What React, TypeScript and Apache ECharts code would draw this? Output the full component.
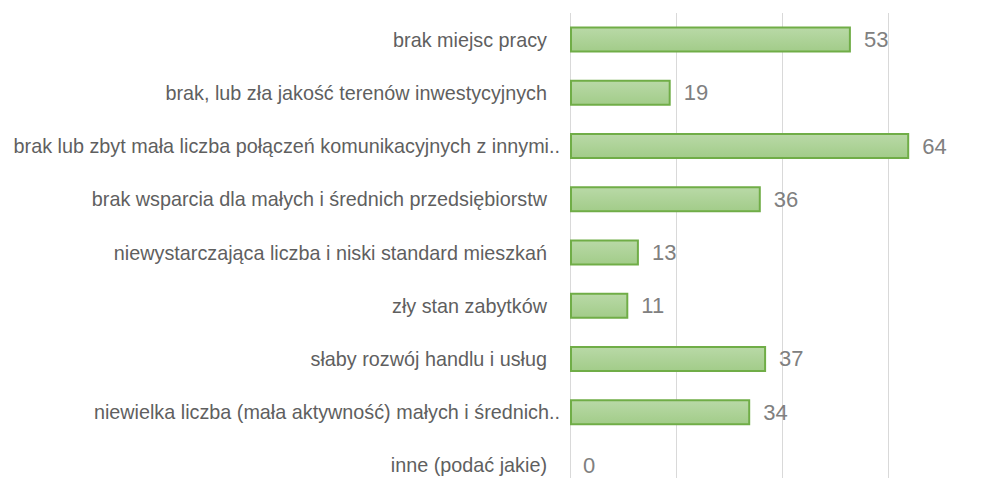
import React, { useEffect, useRef } from "react";
import * as echarts from "echarts";

const categories = [
  "brak miejsc pracy",
  "brak, lub zła jakość terenów inwestycyjnych",
  "brak lub zbyt mała liczba połączeń komunikacyjnych z innymi..",
  "brak wsparcia dla małych i średnich przedsiębiorstw",
  "niewystarczająca liczba i niski standard mieszkań",
  "zły stan zabytków",
  "słaby rozwój handlu i usług",
  "niewielka liczba (mała aktywność) małych i średnich..",
  "inne (podać jakie)",
];
const values = [53, 19, 64, 36, 13, 11, 37, 34, 0];

const FONT = "'Liberation Sans', Arial, sans-serif";

export default function App() {
  const ref = useRef<HTMLDivElement>(null);
  useEffect(() => {
    if (!ref.current) return;
    const chart = echarts.init(ref.current, undefined, { renderer: "svg" });
    chart.setOption({
      animation: false,
      grid: {
        left: 570,
        right: -12,
        top: 13,
        bottom: -14,
        containLabel: false,
        outerBoundsMode: "none",
      },
      xAxis: {
        type: "value",
        min: 0,
        max: 80,
        interval: 20,
        axisLabel: { show: false },
        axisLine: { show: false },
        axisTick: { show: false },
        splitLine: { lineStyle: { color: "#d9d9d9", width: 1 } },
      },
      yAxis: {
        type: "category",
        inverse: true,
        data: categories,
        axisLine: { show: false },
        axisTick: { show: false },
        axisLabel: {
          margin: 10,
          fontFamily: FONT,
          fontSize: 19.8,
          color: "#5f5f5f",
          formatter: (v: string) => (v.endsWith("..") ? "{t|" + v + "}" : "{n|" + v + "}"),
          rich: {
            t: { fontFamily: FONT, fontSize: 19.8, color: "#5f5f5f" },
            n: { fontFamily: FONT, fontSize: 19.8, color: "#5f5f5f", padding: [0, 13, 0, 0] },
          },
        },
      },
      series: [
        {
          type: "bar",
          data: values.map((v) => (v === 0 ? { value: v, itemStyle: { borderWidth: 0 } } : v)),
          barWidth: 26,
          itemStyle: {
            color: new echarts.graphic.LinearGradient(0, 0, 0, 1, [
              { offset: 0, color: "#b9d9a7" },
              { offset: 1, color: "#a2cc89" },
            ]),
            borderColor: "#70ad47",
            borderWidth: 2,
          },
          label: {
            show: true,
            position: "right",
            distance: 13,
            fontFamily: FONT,
            fontSize: 22,
            color: "#808080",
          },
        },
      ],
    });
    return () => chart.dispose();
  }, []);
  return (
    <div
      ref={ref}
      style={{ position: "absolute", left: 0, top: 0, width: 982, height: 478, background: "#ffffff" }}
    />
  );
}
